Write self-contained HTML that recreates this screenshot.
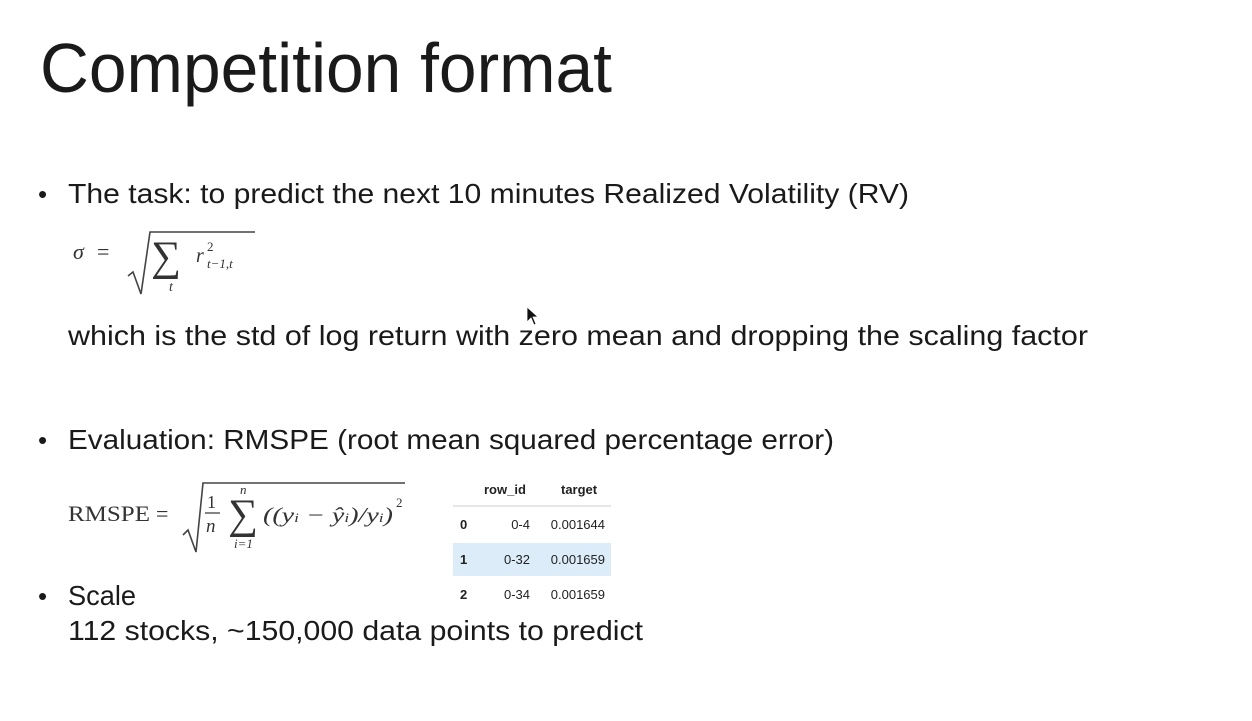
<!DOCTYPE html>
<html><head><meta charset="utf-8"><style>
html,body{margin:0;padding:0;background:#fff;}
svg{display:block}
.s{font-family:"Liberation Sans",sans-serif;fill:#1a1a1a}
.m{font-family:"Liberation Serif","DejaVu Serif",serif;fill:#333}
.t{font-family:"Liberation Sans",sans-serif;fill:#222;font-size:13px}
</style></head><body>
<svg width="1252" height="721" viewBox="0 0 1252 721">
<rect width="1252" height="721" fill="#fff"/>
<text class="s" x="40" y="92" font-size="70" textLength="572" lengthAdjust="spacingAndGlyphs">Competition format</text>

<text class="s" x="38" y="203" font-size="26">•</text>
<text class="s" x="68" y="203" font-size="28" textLength="841" lengthAdjust="spacingAndGlyphs">The task: to predict the next 10 minutes Realized Volatility (RV)</text>

<g>
<text class="m" x="73" y="259" font-size="22" font-style="italic">σ</text>
<text class="m" x="97" y="259" font-size="22">=</text>
<path d="M128 276 L133 272 L141 294 L150 232 L255 232" stroke="#444" stroke-width="1.6" fill="none"/>
<text class="m" x="151" y="270" font-size="42">∑</text>
<text class="m" x="169" y="291" font-size="14" font-style="italic">t</text>
<text class="m" x="196" y="262" font-size="20" font-style="italic">r</text>
<text class="m" x="207" y="251" font-size="13">2</text>
<text class="m" x="207" y="268" font-size="13" font-style="italic">t−1,t</text>
</g>

<text class="s" x="68" y="345" font-size="28" textLength="1020" lengthAdjust="spacingAndGlyphs">which is the std of log return with zero mean and dropping the scaling factor</text>
<path d="M527 307 L527 322 L531 318 L534 325 L536 324 L533 317 L538 317 Z" fill="#111" stroke="#fff" stroke-width="0.8"/>

<text class="s" x="38" y="449" font-size="26">•</text>
<text class="s" x="68" y="449" font-size="28" textLength="766" lengthAdjust="spacingAndGlyphs">Evaluation: RMSPE (root mean squared percentage error)</text>

<g>
<text class="m" x="68" y="521" font-size="22" textLength="82" lengthAdjust="spacingAndGlyphs">RMSPE</text>
<text class="m" x="156" y="521" font-size="22">=</text>
<path d="M183 535 L188 530 L196 552 L203 483 L405 483" stroke="#444" stroke-width="1.6" fill="none"/>
<text class="m" x="207" y="508" font-size="18">1</text>
<line x1="205" y1="513" x2="220" y2="513" stroke="#333" stroke-width="1.2"/>
<text class="m" x="206" y="532" font-size="19" font-style="italic">n</text>
<text class="m" x="228" y="528" font-size="42">∑</text>
<text class="m" x="240" y="494" font-size="13" font-style="italic">n</text>
<text class="m" x="234" y="548" font-size="13" font-style="italic">i=1</text>
<text class="m" x="263" y="522" font-size="21" font-style="italic" textLength="130" lengthAdjust="spacingAndGlyphs">((y<tspan font-size="13">i</tspan> − ŷ<tspan font-size="13">i</tspan>)/y<tspan font-size="13">i</tspan>)</text>
<text class="m" x="396" y="507" font-size="13">2</text>
</g>

<g>
<text class="t" x="484" y="494" font-weight="bold">row_id</text>
<text class="t" x="561" y="494" font-weight="bold">target</text>
<line x1="453" y1="506" x2="611" y2="506" stroke="#ccc" stroke-width="1"/>
<rect x="453" y="543" width="158" height="33" fill="#dcedf9"/>
<text class="t" x="460" y="529" font-weight="bold">0</text>
<text class="t" x="530" y="529" text-anchor="end">0-4</text>
<text class="t" x="605" y="529" text-anchor="end">0.001644</text>
<text class="t" x="460" y="564" font-weight="bold">1</text>
<text class="t" x="530" y="564" text-anchor="end">0-32</text>
<text class="t" x="605" y="564" text-anchor="end">0.001659</text>
<text class="t" x="460" y="599" font-weight="bold">2</text>
<text class="t" x="530" y="599" text-anchor="end">0-34</text>
<text class="t" x="605" y="599" text-anchor="end">0.001659</text>
</g>

<text class="s" x="38" y="605" font-size="26">•</text>
<text class="s" x="68" y="605" font-size="28" textLength="68" lengthAdjust="spacingAndGlyphs">Scale</text>
<text class="s" x="68" y="640" font-size="28" textLength="575" lengthAdjust="spacingAndGlyphs">112 stocks, ~150,000 data points to predict</text>
</svg>
</body></html>
